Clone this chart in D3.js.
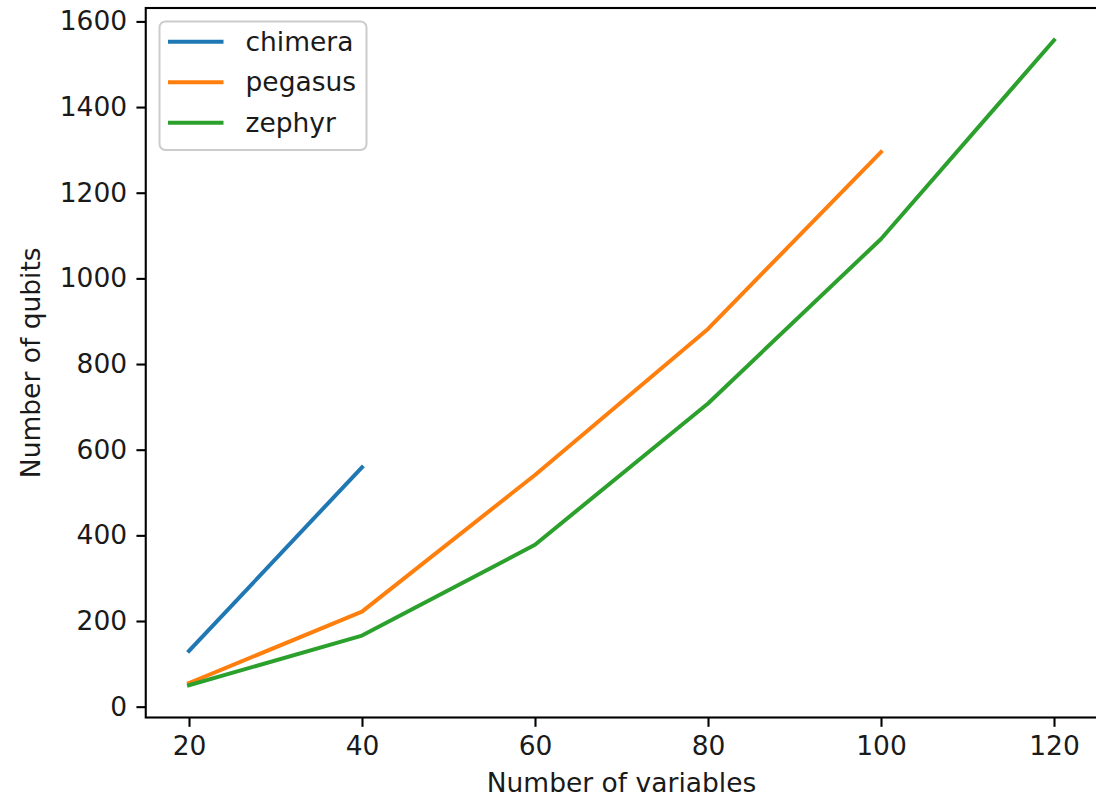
<!DOCTYPE html>
<html>
<head>
<meta charset="utf-8">
<script src="https://cdn.jsdelivr.net/npm/d3@7"></script>
<style>
  html, body { margin: 0; padding: 0; background: #fff; }
  svg { display: block; font-family: "DejaVu Sans", sans-serif; }
</style>
</head>
<body>
<div id="chart"></div>
<script>
const seriesNames = ['chimera', 'pegasus', 'zephyr'];
const seriesColors = ['#1f77b4', '#ff7f0e', '#2ca02c'];

const chimeraX = [20, 40];
const chimeraY = [130, 559];
const pegasusX = [20, 40, 60, 80, 100];
const pegasusY = [55, 222, 541, 882, 1295];
const zephyrX = [20, 40, 60, 80, 100, 120];
const zephyrY = [50, 166, 378, 708, 1092, 1556];

const xTicks = [20, 40, 60, 80, 100, 120];
const yTicks = [0, 200, 400, 600, 800, 1000, 1200, 1400, 1600];

const xLabel = 'Number of variables';
const yLabel = 'Number of qubits';

const width = 1096, height = 797;
const margin = {top: 8, right: -1.25, bottom: 79.5, left: 145.75};
const fontSize = 26.5;
const textColor = '#1a1a1a';

const series = [
  {name: seriesNames[0], xs: chimeraX, ys: chimeraY},
  {name: seriesNames[1], xs: pegasusX, ys: pegasusY},
  {name: seriesNames[2], xs: zephyrX, ys: zephyrY},
];
const colors = d3.scaleOrdinal(seriesNames, seriesColors);

const svg = d3.select('#chart').append('svg')
  .attr('width', width)
  .attr('height', height)
  .attr('viewBox', `0 0 ${width} ${height}`);

// matplotlib style 5% margins
const allX = [].concat(chimeraX, pegasusX, zephyrX);
const allY = [].concat(chimeraY, pegasusY, zephyrY);
const [x0, x1] = d3.extent(allX), [y0, y1] = d3.extent(allY);
const dx = (x1 - x0) * 0.05, dy = (y1 - y0) * 0.05;

const x = d3.scaleLinear()
  .domain([x0 - dx, x1 + dx])
  .range([margin.left, width - margin.right]);

const y = d3.scaleLinear()
  .domain([y0 - dy, y1 + dy])
  .range([height - margin.bottom, margin.top]);

const tickLen = 9.3, tickPad = 9.3, lw = 2.1;

const styleTicks = g => g
  .call(g => g.select('.domain').remove())
  .call(g => g.selectAll('.tick line').attr('stroke', '#000').attr('stroke-width', lw))
  .call(g => g.selectAll('.tick text').attr('fill', textColor).attr('font-size', fontSize)
      .attr('font-family', '"DejaVu Sans", sans-serif'));

const xAxis = g => g
  .attr('transform', `translate(0,${height - margin.bottom})`)
  .call(d3.axisBottom(x).tickValues(xTicks).tickFormat(d3.format('d'))
      .tickSize(tickLen).tickPadding(tickPad).tickSizeOuter(0))
  .call(styleTicks);

const yAxis = g => g
  .attr('transform', `translate(${margin.left},0)`)
  .call(d3.axisLeft(y).tickValues(yTicks).tickFormat(d3.format('d'))
      .tickSize(tickLen).tickPadding(tickPad).tickSizeOuter(0))
  .call(styleTicks);

svg.append('g').call(xAxis);
svg.append('g').call(yAxis);

const line = d3.line()
  .x(d => x(d[0]))
  .y(d => y(d[1]));

svg.append('g')
    .attr('fill', 'none')
    .attr('stroke-width', 4)
    .attr('stroke-linecap', 'square')
    .attr('stroke-linejoin', 'round')
  .selectAll('path')
  .data(series)
  .join('path')
    .attr('stroke', d => colors(d.name))
    .attr('d', d => line(d.xs.map((v, i) => [v, d.ys[i]])));

// frame
svg.append('rect')
  .attr('x', margin.left)
  .attr('y', margin.top)
  .attr('width', width - margin.left - margin.right)
  .attr('height', height - margin.top - margin.bottom)
  .attr('fill', 'none')
  .attr('stroke', '#000')
  .attr('stroke-width', lw);

// axis labels
svg.append('text')
  .attr('x', (x.range()[0] + x.range()[1]) / 2)
  .attr('y', 792)
  .attr('text-anchor', 'middle')
  .attr('font-size', fontSize)
  .attr('fill', textColor)
  .text(xLabel);

svg.append('text')
  .attr('transform', `translate(39.5,${(y.range()[0] + y.range()[1]) / 2}) rotate(-90)`)
  .attr('text-anchor', 'middle')
  .attr('font-size', fontSize)
  .attr('fill', textColor)
  .text(yLabel);

// legend
const legend = svg.append('g').attr('transform', 'translate(159.5,21.5)');
legend.append('rect')
  .attr('width', 207)
  .attr('height', 128.5)
  .attr('rx', 6)
  .attr('fill', '#fff')
  .attr('fill-opacity', 0.8)
  .attr('stroke', '#ccc')
  .attr('stroke-width', 2);

const item = legend.selectAll('g.item')
  .data(seriesNames)
  .join('g')
    .attr('class', 'item')
    .attr('transform', (d, i) => `translate(0,${20.2 + i * 40.5})`);

item.append('line')
  .attr('x1', 8.5)
  .attr('x2', 64)
  .attr('stroke', d => colors(d))
  .attr('stroke-width', 4);

item.append('text')
  .attr('x', 86)
  .attr('dy', '0.35em')
  .attr('font-size', fontSize)
  .attr('fill', textColor)
  .text(d => d);
</script>
</body>
</html>
